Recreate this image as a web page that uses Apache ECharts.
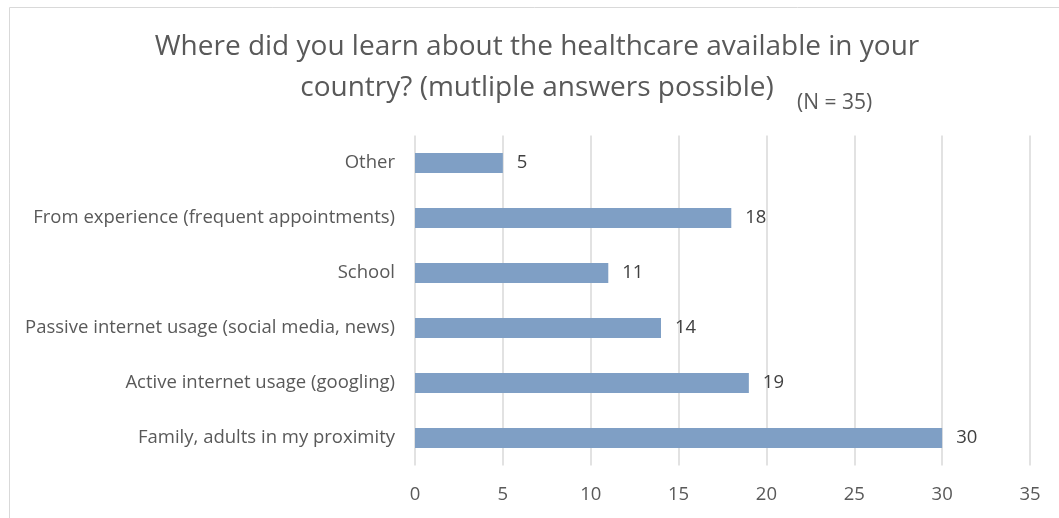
<!DOCTYPE html>
<html><head><meta charset="utf-8">
<script src="https://cdn.jsdelivr.net/npm/echarts@6/dist/echarts.min.js"></script>
<style>html,body{margin:0;padding:0;background:#fff}#c{width:1059px;height:518px}</style>
</head><body><div id="c"></div>
<script>
const categories = ["Family, adults in my proximity","Active internet usage (googling)","Passive internet usage (social media, news)","School","From experience (frequent appointments)","Other"];
const values = [30,19,14,11,18,5];
const xTicks = [0,5,10,15,20,25,30,35];
const titleLines = ["Where did you learn about the healthcare available in your","country? (mutliple answers possible)"];
const subtitle = "(N = 35)";

const font = "'Open Sans', sans-serif";
const chart = echarts.init(document.getElementById('c'));
chart.setOption({
  animation:false,
  graphic:[
    {type:'rect',shape:{x:9.5,y:7.5,width:1100,height:600},style:{fill:'none',stroke:'#d9d9d9',lineWidth:1}},
    {type:'text',x:537,top:33,style:{text:titleLines[0],font:"28px "+font,fill:'#595959',textAlign:'center'}},
    {type:'text',x:537,top:74,style:{text:titleLines[1],font:"28px "+font,fill:'#595959',textAlign:'center'}},
    {type:'text',x:797,top:93,style:{text:subtitle,font:"21px "+font,fill:'#595959'}}
  ],
  grid:{left:415,right:29,top:135.5,bottom:52.5,containLabel:false},
  xAxis:{type:'value',min:0,max:35,interval:5,
    axisLine:{show:false},axisTick:{show:false},
    splitLine:{lineStyle:{color:'#d9d9d9',width:1.5}},
    axisLabel:{color:'#595959',fontSize:18.5,fontFamily:font,margin:20}},
  yAxis:{type:'category',data:categories,
    axisLine:{show:false},axisTick:{show:false},
    axisLabel:{color:'#595959',fontSize:18.5,fontFamily:font,margin:20}},
  series:[{type:'bar',data:values,barWidth:'36%',
    itemStyle:{color:'#7f9fc5'},
    label:{show:true,position:'right',distance:14,color:'#404040',fontSize:18.5,fontFamily:font}}]
});
</script></body></html>
